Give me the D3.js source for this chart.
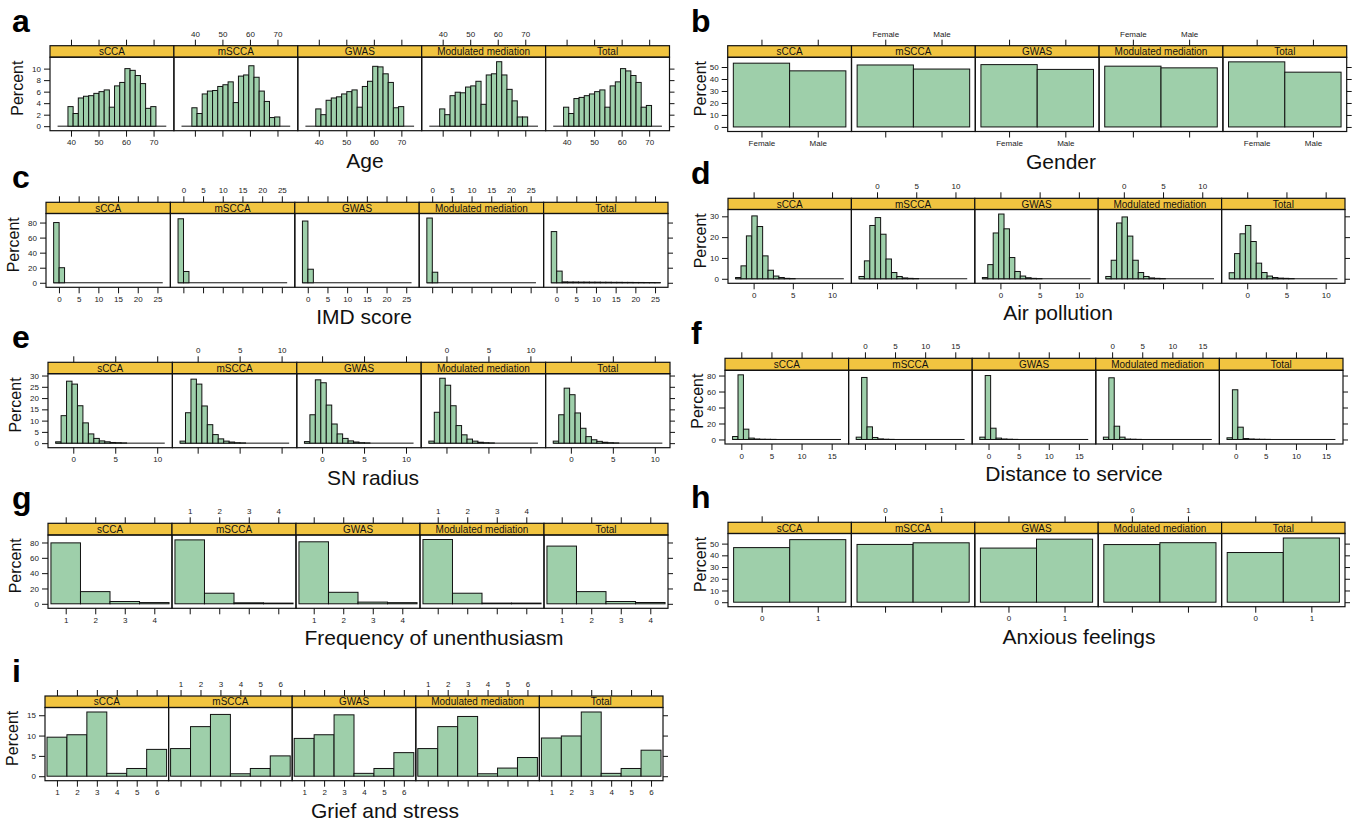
<!DOCTYPE html>
<html>
<head>
<meta charset="utf-8">
<script src="https://cdn.jsdelivr.net/npm/d3@7"></script>
<style>
  body { margin: 0; background: #fff; }
  text { font-family: "Liberation Sans", Arial, sans-serif; }
</style>
</head>
<body>
<script>
// conditioning groups (one strip per group)
var groups = ['sCCA', 'mSCCA', 'GWAS', 'Modulated mediation', 'Total'];

// a: Age
var ageBreaks = [35.14, 37.02, 38.90, 40.78, 42.66, 44.54, 46.42, 48.30, 50.18, 52.06, 53.94,
  55.82, 57.70, 59.58, 61.46, 63.34, 65.22, 67.10, 68.98, 70.86, 72.74, 74.62];
var agePct = [
  [0, 0, 3.4, 2.2, 4.9, 5.2, 5.3, 5.7, 6.0, 6.3, 3.3, 7.0, 7.6, 10.0, 9.7, 8.8, 7.4, 3.1, 3.4, 0, 0],
  [0, 0, 3.2, 2.2, 5.6, 6.1, 6.2, 6.9, 7.2, 7.7, 4.1, 8.7, 8.9, 10.5, 8.5, 6.1, 4.3, 1.5, 1.6, 0, 0],
  [0, 0, 3.0, 2.0, 4.5, 4.9, 5.1, 5.6, 6.0, 6.3, 3.3, 6.9, 7.8, 10.4, 10.3, 9.1, 7.6, 3.2, 3.4, 0, 0],
  [0, 0, 3.0, 2.0, 5.3, 5.9, 5.8, 6.8, 7.0, 7.8, 3.8, 8.9, 9.1, 11.2, 8.9, 6.4, 4.4, 1.6, 1.6, 0, 0],
  [0, 0, 3.3, 2.2, 4.8, 5.0, 5.3, 5.6, 6.0, 6.3, 3.3, 7.0, 7.7, 10.0, 9.6, 8.8, 7.6, 3.3, 3.6, 0, 0]
];
var ageTicks = [40, 50, 60, 70];

// b: Gender
var genderLevels = ['Female', 'Male'];
var genderPct = [[53.2, 46.8], [51.7, 48.3], [52.0, 48.0], [50.7, 49.3], [54.3, 45.7]];

// c: IMD score
var imdBreaks = [-1.35, 0.04, 1.42, 2.81, 4.19, 5.58, 6.96, 8.35, 9.73, 11.12, 12.5,
  13.89, 15.27, 16.66, 18.04, 19.43, 20.81, 22.2, 23.58, 24.97, 26.35];
var imdPct = [
  [80, 20, 0, 0, 0, 0, 0, 0, 0, 0, 0, 0, 0, 0, 0, 0, 0, 0, 0, 0],
  [85, 15, 0, 0, 0, 0, 0, 0, 0, 0, 0, 0, 0, 0, 0, 0, 0, 0, 0, 0],
  [82, 18, 0, 0, 0, 0, 0, 0, 0, 0, 0, 0, 0, 0, 0, 0, 0, 0, 0, 0],
  [86, 14, 0, 0, 0, 0, 0, 0, 0, 0, 0, 0, 0, 0, 0, 0, 0, 0, 0, 0],
  [68, 15.5, 1.2, 1.0, 1.0, 0.9, 0.9, 0.8, 0.8, 0.7, 0.7, 0.6, 0.6, 0.5, 0.5, 0.4, 0.4, 0.3, 0.3, 0.2]
];
var imdTicks = [0, 5, 10, 15, 20, 25];

// d: Air pollution
var airBreaks = [-2.3, -1.61, -0.92, -0.23, 0.46, 1.15, 1.84, 2.53, 3.22, 3.91, 4.6,
  5.29, 5.98, 6.67, 7.36, 8.05, 8.74, 9.43, 10.12, 10.81, 11.5];
var airPct = [
  [0.6, 6.2, 20.6, 30.2, 25.1, 11.0, 4.1, 1.3, 0.6, 0.2, 0.1, 0, 0, 0, 0, 0, 0, 0, 0, 0],
  [1.1, 8.6, 25.6, 29.4, 21.4, 9.5, 3.0, 1.1, 0.4, 0.2, 0.1, 0, 0, 0, 0, 0, 0, 0, 0, 0],
  [0.6, 6.8, 22.0, 31.1, 24.0, 10.2, 3.5, 1.3, 0.5, 0.2, 0.1, 0, 0, 0, 0, 0, 0, 0, 0, 0],
  [1.1, 8.9, 26.8, 29.7, 20.5, 8.9, 3.0, 1.1, 0.4, 0.2, 0.1, 0, 0, 0, 0, 0, 0, 0, 0, 0],
  [2.9, 12.1, 21.6, 25.6, 17.9, 7.5, 3.0, 1.3, 0.6, 0.3, 0.2, 0.1, 0, 0, 0, 0, 0, 0, 0, 0]
];
var airTicks = [0, 5, 10];

// e: SN radius
var snBreaks = [-2.1, -1.45, -0.8, -0.15, 0.5, 1.15, 1.8, 2.45, 3.1, 3.75, 4.4,
  5.05, 5.7, 6.35, 7.0, 7.65, 8.3, 8.95, 9.6, 10.25, 10.9];
var snPct = [
  [0.6, 12.2, 27.5, 26.2, 16.6, 9.0, 4.1, 2.1, 1.0, 0.6, 0.3, 0.2, 0.1, 0, 0, 0, 0, 0, 0, 0],
  [0.9, 13.5, 28.4, 26.2, 16.5, 8.2, 3.8, 1.9, 0.9, 0.5, 0.2, 0.1, 0, 0, 0, 0, 0, 0, 0, 0],
  [0.7, 12.6, 28.1, 26.8, 16.9, 8.5, 4.1, 2.1, 1.0, 0.5, 0.2, 0.1, 0, 0, 0, 0, 0, 0, 0, 0],
  [0.9, 13.7, 28.8, 25.7, 16.6, 7.8, 3.7, 1.8, 0.9, 0.4, 0.2, 0.1, 0, 0, 0, 0, 0, 0, 0, 0],
  [0.9, 12.6, 24.4, 21.5, 13.4, 6.6, 2.9, 1.5, 0.8, 0.4, 0.2, 0.1, 0, 0, 0, 0, 0, 0, 0, 0]
];
var snTicks = [0, 5, 10];

// f: Distance to service
var distBreaks = [-1.45, -0.55, 0.35, 1.25, 2.15, 3.05, 3.95, 4.85, 5.75, 6.65, 7.55,
  8.45, 9.35, 10.25, 11.15, 12.05, 12.95, 13.85, 14.75, 15.65, 16.55];
var distPct = [
  [3.7, 80.9, 12.9, 1.7, 0.6, 0.3, 0.2, 0.1, 0, 0, 0, 0, 0, 0, 0, 0, 0, 0, 0, 0],
  [2.9, 77.6, 15.8, 2.5, 0.7, 0.3, 0.1, 0, 0, 0, 0, 0, 0, 0, 0, 0, 0, 0, 0, 0],
  [2.9, 80.0, 14.1, 1.7, 0.6, 0.3, 0.1, 0, 0, 0, 0, 0, 0, 0, 0, 0, 0, 0, 0, 0],
  [2.9, 77.2, 16.6, 2.9, 0.5, 0.3, 0.1, 0, 0, 0, 0, 0, 0, 0, 0, 0, 0, 0, 0, 0],
  [2.1, 62.2, 15.4, 1.2, 0.6, 0.3, 0.2, 0.1, 0, 0, 0, 0, 0, 0, 0, 0, 0, 0, 0, 0]
];
var distTicks = [0, 5, 10, 15];

// g: Frequency of unenthusiasm
var unenthLevels = ['1', '2', '3', '4'];
var unenthPct = [[79.5, 15.9, 3.0, 1.6], [83.4, 13.8, 1.3, 0.9], [80.9, 15.0, 2.2, 1.5],
  [83.9, 13.8, 0.9, 0.9], [75.3, 15.9, 3.0, 1.7]];

// h: Anxious feelings
var anxLevels = ['0', '1'];
var anxPct = [[46.6, 53.4], [49.3, 50.7], [46.2, 53.8], [49.2, 50.8], [42.4, 54.8]];

// i: Grief and stress
var griefLevels = ['1', '2', '3', '4', '5', '6'];
var griefPct = [[9.6, 10.2, 15.8, 0.7, 1.9, 6.6], [6.8, 12.2, 15.2, 0.6, 1.9, 5.0],
  [9.3, 10.2, 15.1, 0.7, 1.9, 5.8], [6.8, 12.2, 14.7, 0.6, 2.0, 4.6],
  [9.4, 9.9, 15.8, 0.7, 1.9, 6.4]];

// layout of the nine blocks (frame = strip + plot), titleX = centre of the x label
var blocks = [
  { id: 'a', title: 'Age', breaks: ageBreaks, pct: agePct, xTicks: ageTicks, yTicks: [0, 2, 4, 6, 8, 10],
    box: { x0: 50, x1: 669.5, top: 45.7, strip: 57.2, bottom: 130.7, titleX: 365 } },
  { id: 'b', title: 'Gender', levels: genderLevels, pct: genderPct, yTicks: [0, 10, 20, 30, 40, 50],
    box: { x0: 727.7, x1: 1346.7, top: 45.7, strip: 57.3, bottom: 131.5, titleX: 1061 } },
  { id: 'c', title: 'IMD score', breaks: imdBreaks, pct: imdPct, xTicks: imdTicks, yTicks: [0, 20, 40, 60, 80],
    box: { x0: 46, x1: 668, top: 202.3, strip: 213.5, bottom: 287.3, titleX: 364 } },
  { id: 'd', title: 'Air pollution', breaks: airBreaks, pct: airPct, xTicks: airTicks, yTicks: [0, 10, 20, 30],
    box: { x0: 728, x1: 1345, top: 198.3, strip: 209.5, bottom: 283.3, titleX: 1058 } },
  { id: 'e', title: 'SN radius', breaks: snBreaks, pct: snPct, xTicks: snTicks, yTicks: [0, 5, 10, 15, 20, 25, 30],
    box: { x0: 48, x1: 670, top: 362.3, strip: 373.7, bottom: 447.7, titleX: 373 } },
  { id: 'f', title: 'Distance to service', breaks: distBreaks, pct: distPct, xTicks: distTicks, yTicks: [0, 20, 40, 60, 80],
    box: { x0: 725, x1: 1343, top: 358.3, strip: 370.3, bottom: 444, titleX: 1074 } },
  { id: 'g', title: 'Frequency of unenthusiasm', levels: unenthLevels, pct: unenthPct, yTicks: [0, 20, 40, 60, 80],
    box: { x0: 48, x1: 668, top: 523.3, strip: 535, bottom: 608.3, titleX: 434 } },
  { id: 'h', title: 'Anxious feelings', levels: anxLevels, pct: anxPct, yTicks: [0, 10, 20, 30, 40, 50],
    box: { x0: 728, x1: 1345, top: 522.3, strip: 533.5, bottom: 606.7, titleX: 1079 } },
  { id: 'i', title: 'Grief and stress', levels: griefLevels, pct: griefPct, yTicks: [0, 5, 10, 15],
    box: { x0: 45, x1: 663, top: 696, strip: 707.5, bottom: 780.7, titleX: 385 } }
];

var barFill = '#9ecfaa';
var stripFill = '#f1c440';

var svg = d3.select('body').append('svg').attr('width', 1362).attr('height', 822);

var styleAxis = function(sel) {
  sel.select('.domain').remove();
  sel.selectAll('line').attr('stroke', '#111');
  sel.selectAll('text').attr('font-size', '8px').attr('fill', '#222')
    .attr('font-family', '"Liberation Sans", Arial, sans-serif');
};

var drawBlock = function(p) {
  var b = p.box;
  var n = groups.length;
  var w = (b.x1 - b.x0) / n;
  var maxPct = d3.max(p.pct, function(r) { return d3.max(r); });
  var y = d3.scaleLinear().domain([-0.07 * maxPct, 1.07 * maxPct]).range([b.bottom, b.strip]);
  var g = svg.append('g');

  groups.forEach(function(name, i) {
    var left = b.x0 + i * w;
    var x = d3.scaleLinear().range([left, left + w]);
    var bins, tickVals, fmt;
    if (p.breaks) {
      var lo = p.breaks[0], hi = p.breaks[p.breaks.length - 1], d = hi - lo;
      x.domain([lo - 0.07 * d, hi + 0.07 * d]);
      bins = p.pct[i].map(function(v, k) { return { x0: p.breaks[k], x1: p.breaks[k + 1], v: v }; });
      tickVals = p.xTicks;
      fmt = d3.format('d');
      // empty bins show as a flat line along zero
      g.append('line')
        .attr('x1', x(lo)).attr('x2', x(hi))
        .attr('y1', y(0)).attr('y2', y(0))
        .attr('stroke', '#111').attr('stroke-width', 1);
    } else {
      x.domain([0.4, p.levels.length + 0.6]);
      bins = p.pct[i].map(function(v, k) { return { x0: k + 0.5, x1: k + 1.5, v: v }; });
      tickVals = p.levels.map(function(l, k) { return k + 1; });
      fmt = function(v) { return p.levels[v - 1]; };
    }

    g.selectAll(null)
      .data(bins.filter(function(d) { return d.v > 0; }))
      .enter()
      .append('rect')
      .attr('x', function(d) { return x(d.x0); })
      .attr('y', function(d) { return y(d.v); })
      .attr('width', function(d) { return x(d.x1) - x(d.x0); })
      .attr('height', function(d) { return y(0) - y(d.v); })
      .attr('fill', barFill)
      .attr('stroke', '#111')
      .attr('stroke-width', 1);

    // strip
    g.append('rect')
      .attr('x', left).attr('y', b.top)
      .attr('width', w).attr('height', b.strip - b.top)
      .attr('fill', stripFill).attr('stroke', '#111').attr('stroke-width', 1.2);
    g.append('text')
      .attr('x', left + w / 2).attr('y', (b.top + b.strip) / 2 + 3.6)
      .attr('text-anchor', 'middle').attr('font-size', '10px').attr('fill', '#111')
      .text(name);

    // panel frame
    g.append('rect')
      .attr('x', left).attr('y', b.strip)
      .attr('width', w).attr('height', b.bottom - b.strip)
      .attr('fill', 'none').attr('stroke', '#111').attr('stroke-width', 1.2);

    // x axes, labels alternate bottom / top
    g.append('g')
      .attr('transform', 'translate(0,' + b.top + ')')
      .call(d3.axisTop(x).tickValues(tickVals).tickSize(6).tickPadding(3)
        .tickFormat(i % 2 === 1 ? fmt : function() { return ''; }))
      .call(styleAxis);
    g.append('g')
      .attr('transform', 'translate(0,' + b.bottom + ')')
      .call(d3.axisBottom(x).tickValues(tickVals).tickSize(6).tickPadding(3)
        .tickFormat(i % 2 === 0 ? fmt : function() { return ''; }))
      .call(styleAxis);

    if (i === 0) {
      g.append('g')
        .attr('transform', 'translate(' + left + ',0)')
        .call(d3.axisLeft(y).tickValues(p.yTicks).tickSize(6).tickPadding(3).tickFormat(d3.format('d')))
        .call(styleAxis);
    }
    if (i === n - 1) {
      g.append('g')
        .attr('transform', 'translate(' + (left + w) + ',0)')
        .call(d3.axisRight(y).tickValues(p.yTicks).tickSize(5).tickFormat(function() { return ''; }))
        .call(styleAxis);
    }
  });

  // y title
  var leftCol = b.x0 < 400;
  var px = leftCol ? b.x0 - 27.5 : b.x0 - 22;
  var py = (b.top + b.bottom) / 2;
  g.append('text')
    .attr('transform', 'translate(' + px + ',' + py + ') rotate(-90)')
    .attr('text-anchor', 'middle').attr('font-size', '16px').attr('fill', '#111')
    .text('Percent');

  // x title
  g.append('text')
    .attr('x', b.titleX).attr('y', b.bottom + 37)
    .attr('text-anchor', 'middle').attr('font-size', '21px').attr('fill', '#111')
    .text(p.title);

  // panel letter
  g.append('text')
    .attr('x', leftCol ? 12 : 691).attr('y', b.top - 14)
    .attr('font-size', '32px').attr('font-weight', 'bold').attr('fill', '#000')
    .text(p.id);
};

blocks.forEach(drawBlock);
</script>
</body>
</html>
